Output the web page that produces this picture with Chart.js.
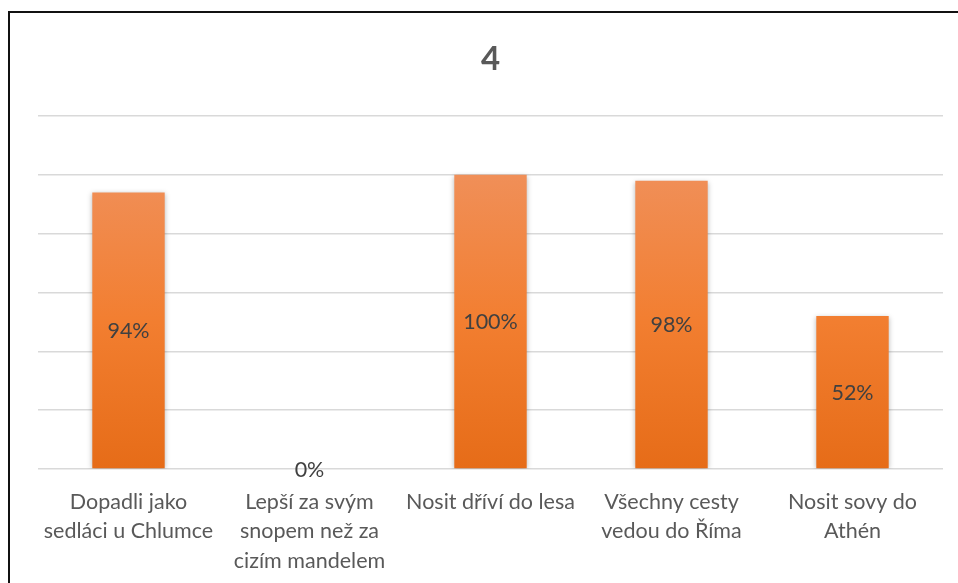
<!DOCTYPE html>
<html>
<head>
<meta charset="utf-8">
<script src="https://cdn.jsdelivr.net/npm/chart.js@4"></script>
<style>
  html, body { margin: 0; padding: 0; background: #fff; overflow: hidden; }
  #wrap { position: relative; width: 958px; height: 583px; }
  #frame { position: absolute; left: 8px; top: 11px; width: 1000px; height: 1000px;
           border: 2px solid #111; pointer-events: none; }
</style>
</head>
<body>
<div id="wrap">
  <canvas id="chart" width="958" height="583"></canvas>
  <div id="frame"></div>
</div>
<script>
// data
const categories = [
  ['Dopadli jako', 'sedláci u Chlumce'],
  ['Lepší za svým', 'snopem než za', 'cizím mandelem'],
  'Nosit dříví do lesa',
  ['Všechny cesty', 'vedou do Říma'],
  ['Nosit sovy do', 'Athén']
];
const values = [0.94, 0, 1.00, 0.98, 0.52];
const chartTitle = '4';

const FONT = "Lato, 'Open Sans', sans-serif";

// labels in the middle of each bar
const centerLabels = {
  id: 'centerLabels',
  afterDatasetsDraw(chart) {
    const ctx = chart.ctx;
    const meta = chart.getDatasetMeta(0);
    ctx.save();
    ctx.font = '21.5px ' + FONT;
    ctx.fillStyle = '#404040';
    ctx.textAlign = 'center';
    ctx.textBaseline = 'middle';
    meta.data.forEach((bar, i) => {
      const y = (bar.y + bar.base) / 2 + 1;
      ctx.fillText(Math.round(values[i] * 100) + '%', bar.x, y);
    });
    ctx.restore();
  }
};

// soft shadow behind bars
const barShadow = {
  id: 'barShadow',
  beforeDatasetsDraw(chart) {
    const ctx = chart.ctx;
    ctx.save();
    ctx.shadowColor = 'rgba(0,0,0,0.28)';
    ctx.shadowBlur = 5;
    ctx.shadowOffsetX = 0;
    ctx.shadowOffsetY = 1;
  },
  afterDatasetsDraw(chart) {
    chart.ctx.restore();
  }
};

const ctx = document.getElementById('chart').getContext('2d');

function barGradient(context) {
  const area = context.chart.chartArea;
  if (!area) return '#ED7D31';
  const g = context.chart.ctx.createLinearGradient(0, area.top + 59, 0, area.bottom);
  g.addColorStop(0, '#F08F58');
  g.addColorStop(0.5, '#F27E30');
  g.addColorStop(1, '#E66C18');
  return g;
}

new Chart(ctx, {
  type: 'bar',
  data: {
    labels: categories,
    datasets: [{
      data: values,
      backgroundColor: barGradient,
      barPercentage: 0.4,
      categoryPercentage: 1.0
    }]
  },
  options: {
    responsive: false,
    animation: false,
    layout: { padding: { left: 38, right: 15, top: 0, bottom: 0 } },
    plugins: {
      legend: { display: false },
      tooltip: { enabled: false },
      title: {
        display: true,
        text: chartTitle,
        color: '#595959',
        font: { family: FONT, size: 33, weight: 'bold', lineHeight: 1.2 },
        padding: { top: 40, bottom: 36.4 }
      }
    },
    scales: {
      x: {
        grid: { display: false },
        border: { display: false },
        ticks: {
          color: '#595959',
          font: { family: FONT, size: 21.5, lineHeight: 1.35 },
          padding: 11,
          maxRotation: 0,
          autoSkip: false
        },
        afterFit(scale) { scale.height = 114; }
      },
      y: {
        min: 0,
        max: 1.2,
        ticks: { display: false, stepSize: 0.2 },
        border: { display: false },
        grid: { color: '#d9d9d9', lineWidth: 1.5, drawTicks: false },
        afterFit(scale) { scale.width = 0; }
      }
    }
  },
  plugins: [barShadow, centerLabels]
});
</script>
</body>
</html>
